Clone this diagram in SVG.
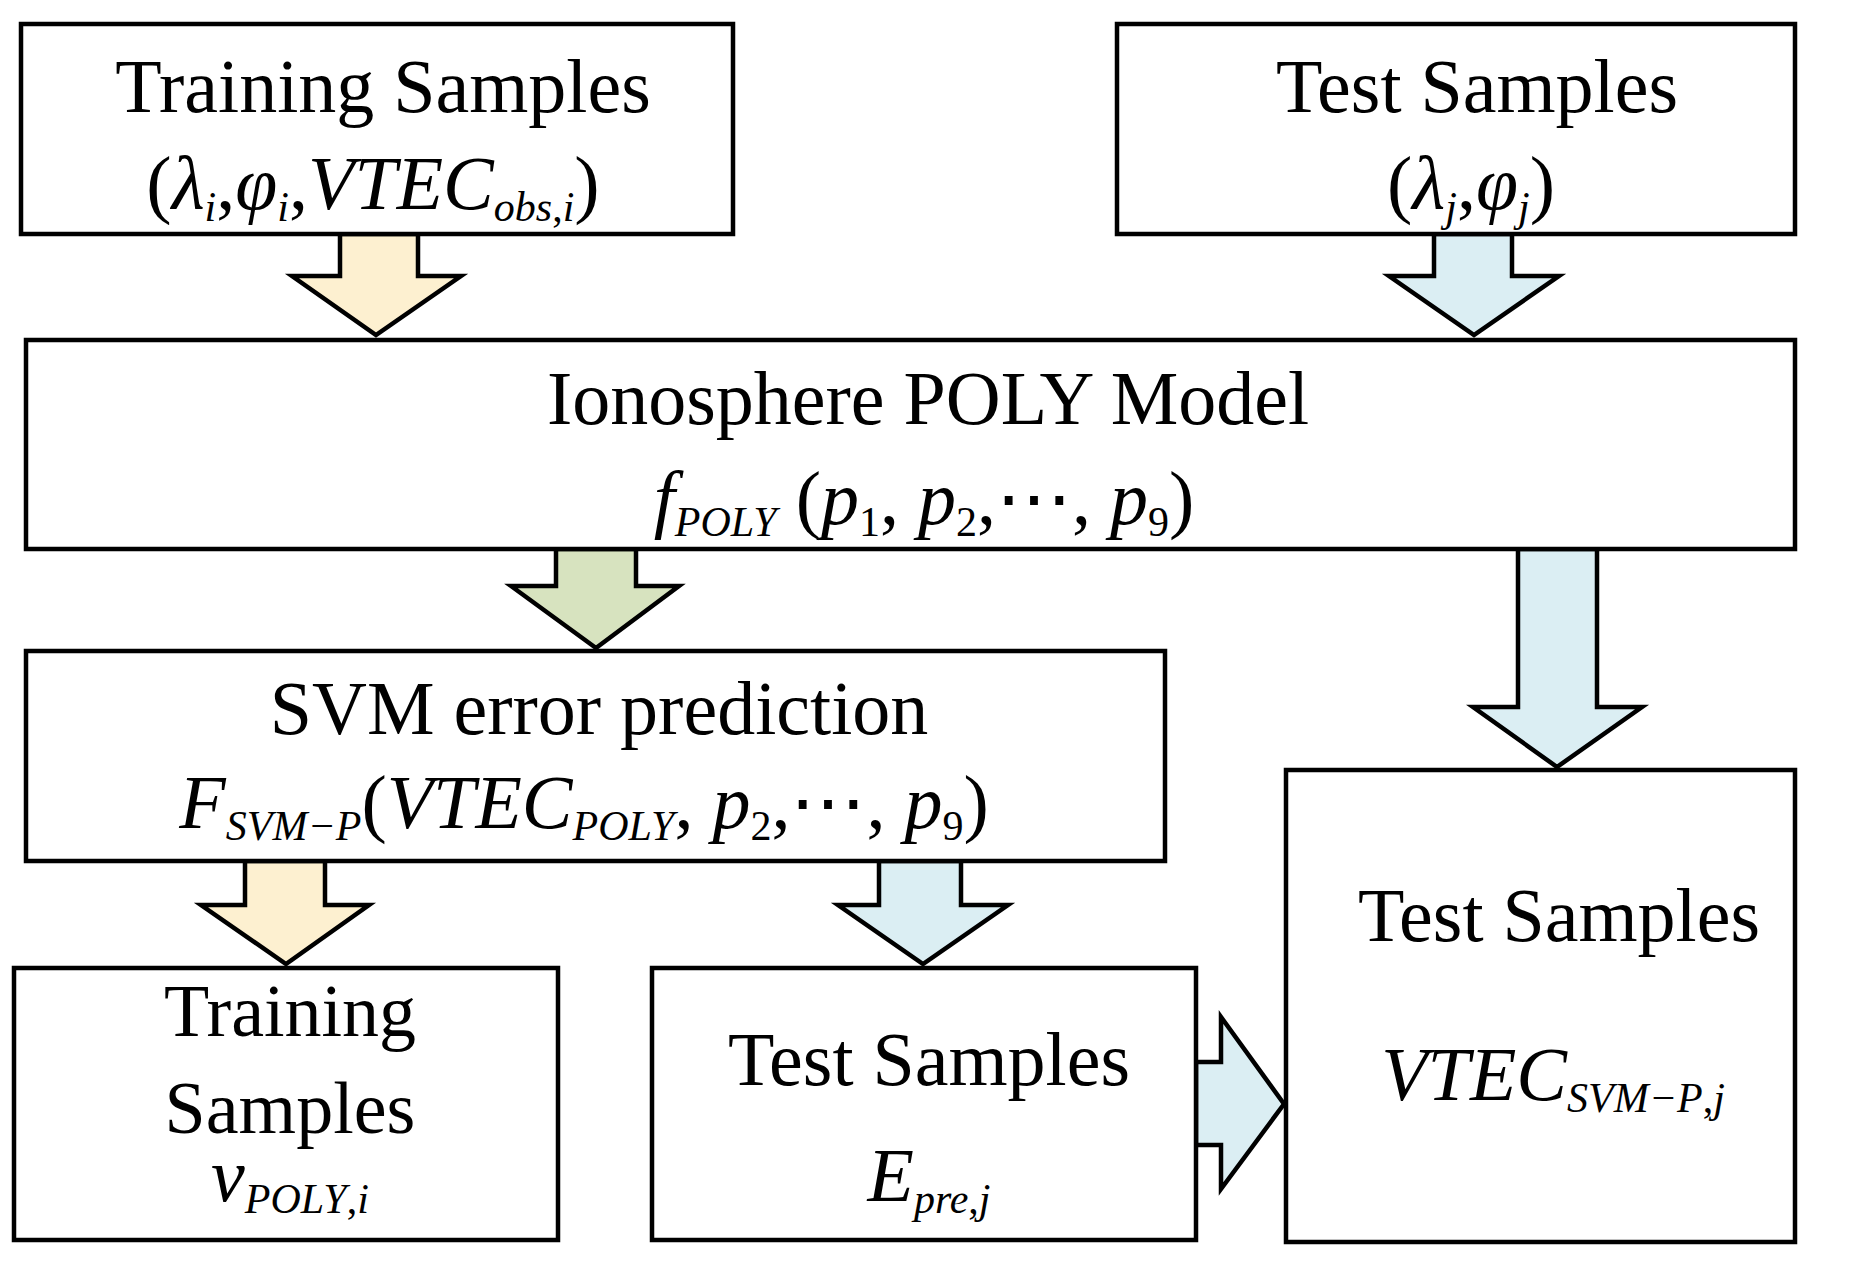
<svg xmlns="http://www.w3.org/2000/svg" width="1855" height="1261" viewBox="0 0 1855 1261">
<style>
.box{fill:#fff;stroke:#000;stroke-width:4.5}
.ar{stroke:#000;stroke-width:4.5;stroke-linejoin:miter}
.y{fill:#fdf0d0}.b{fill:#dbeef3}.g{fill:#d7e3bf}
text{font-family:"Liberation Serif","Times New Roman",serif;font-size:76px;text-anchor:middle;fill:#000}
.m{font-style:italic}
.s{font-size:42px;font-style:italic}
.n{font-size:42px;font-style:normal}
</style>
<rect width="1855" height="1261" fill="#fff"/>
<g id="connectors">
<polygon class="ar y" points="340,234 418,234 418,276 461,276 376,335 292,276 340,276"/>
<polygon class="ar b" points="1434,234 1512,234 1512,276 1559,276 1474,335 1389,276 1434,276"/>
<polygon class="ar g" points="556,549 636,549 636,586 679,586 596,648 511,586 556,586"/>
<polygon class="ar b" points="1518,549 1597,549 1597,707 1642,707 1557,767 1473,707 1518,707"/>
<polygon class="ar y" points="245,861 325,861 325,905 369,905 286,964 201,905 245,905"/>
<polygon class="ar b" points="879,861 961,861 961,905 1008,905 923,964 838,905 879,905"/>
<polygon class="ar b" points="1196,1062 1221,1062 1221,1017 1284,1104 1221,1189 1221,1145 1196,1145"/>
</g>
<g id="n1"><rect class="box" x="21" y="24" width="712" height="210"/>
<text x="383" y="112">Training Samples</text>
<text x="373" y="209">(<tspan class="m">λ</tspan><tspan class="s" dy="12">i</tspan><tspan dy="-12">,</tspan><tspan class="m">φ</tspan><tspan class="s" dy="12">i</tspan><tspan dy="-12">,</tspan><tspan class="m">VTEC</tspan><tspan class="s" dy="12">obs</tspan><tspan class="n">,</tspan><tspan class="s">i</tspan><tspan dy="-12">)</tspan></text></g>
<g id="n2"><rect class="box" x="1117" y="24" width="678" height="210"/>
<text x="1477" y="112">Test Samples</text>
<text x="1471" y="209">(<tspan class="m">λ</tspan><tspan class="s" dy="12">j</tspan><tspan dy="-12">,</tspan><tspan class="m">φ</tspan><tspan class="s" dy="12">j</tspan><tspan dy="-12">)</tspan></text></g>
<g id="n3"><rect class="box" x="26" y="340" width="1769" height="209"/>
<text x="928" y="424">Ionosphere POLY Model</text>
<text x="924" y="524"><tspan class="m">f</tspan><tspan class="s" dy="12">POLY</tspan><tspan dy="-12"> (</tspan><tspan class="m">p</tspan><tspan class="n" dy="12">1</tspan><tspan dy="-12">, </tspan><tspan class="m">p</tspan><tspan class="n" dy="12">2</tspan><tspan dy="-12">,⋯, </tspan><tspan class="m">p</tspan><tspan class="n" dy="12">9</tspan><tspan dy="-12">)</tspan></text></g>
<g id="n4"><rect class="box" x="26" y="651" width="1139" height="210"/>
<text x="599" y="734">SVM error prediction</text>
<text x="584" y="828"><tspan class="m">F</tspan><tspan class="s" dy="12">SVM−P</tspan><tspan dy="-12">(</tspan><tspan class="m">VTEC</tspan><tspan class="s" dy="12">POLY</tspan><tspan dy="-12">, </tspan><tspan class="m">p</tspan><tspan class="n" dy="12">2</tspan><tspan dy="-12">,⋯, </tspan><tspan class="m">p</tspan><tspan class="n" dy="12">9</tspan><tspan dy="-12">)</tspan></text></g>
<g id="n5"><rect class="box" x="14" y="968" width="544" height="272"/>
<text x="290" y="1036" style="font-size:74px">Training</text>
<text x="290" y="1133" style="font-size:74px">Samples</text>
<text x="290" y="1201"><tspan class="m">v</tspan><tspan class="s" dy="12">POLY</tspan><tspan class="n">,</tspan><tspan class="s">i</tspan></text></g>
<g id="n6"><rect class="box" x="652" y="968" width="544" height="272"/>
<text x="929" y="1085">Test Samples</text>
<text x="929" y="1201"><tspan class="m">E</tspan><tspan class="s" dy="12">pre</tspan><tspan class="n">,</tspan><tspan class="s">j</tspan></text></g>
<g id="n7"><rect class="box" x="1286" y="770" width="509" height="472"/>
<text x="1559" y="941">Test Samples</text>
<text x="1553" y="1100"><tspan class="m">VTEC</tspan><tspan class="s" dy="12">SVM−P</tspan><tspan class="n">,</tspan><tspan class="s">j</tspan></text></g>
</svg>
